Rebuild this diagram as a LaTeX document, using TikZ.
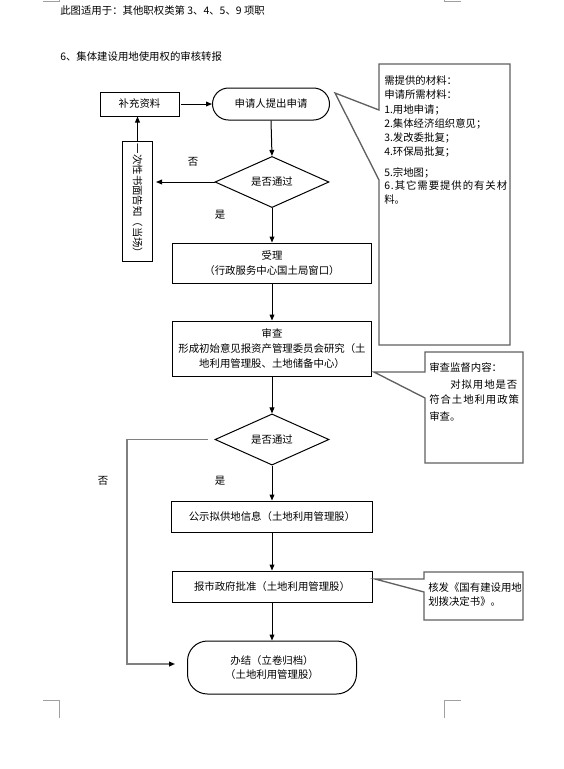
\documentclass[tikz,border=0pt]{standalone}
\usepackage{fontspec}
\setmainfont{Noto Sans CJK SC}
\usetikzlibrary{shapes.geometric,arrows.meta}
\definecolor{notegray}{RGB}{96,96,96}
\definecolor{loopgray}{RGB}{128,128,128}
\definecolor{cropgray}{RGB}{160,160,160}
\begin{document}
\begin{tikzpicture}[x=0.75pt,y=-0.75pt,
  font=\fontsize{7.8}{11}\selectfont,
  box/.style={draw, line width=0.75pt, inner sep=0pt, align=center},
  term/.style={box, rounded corners=12pt},
  dec/.style={draw, diamond, line width=0.75pt, inner sep=0pt, minimum width=85.5pt, minimum height=35.5pt},
  arr/.style={line width=0.75pt, -{Triangle[length=4.5pt,width=3.6pt]}},
  looparr/.style={draw=loopgray, line width=1pt, -{Triangle[length=4.5pt,width=3.6pt,color=black]}},
  note/.style={draw=notegray, line width=1pt, line join=miter},
  ntext/.style={anchor=west, inner sep=0pt},
  spaced/.style={font=\fontsize{7.8}{11}\selectfont\addfontfeature{LetterSpace=9}},
  crop/.style={draw=cropgray, line width=0.75pt}]
\useasboundingbox (0,0) rectangle (564,769);

% crop marks
\draw[crop] (43,1.5) -- (59,1.5) -- (59,0);
\draw[crop] (461,1.5) -- (444,1.5) -- (444,0);
\draw[crop] (43,700) -- (59,700) -- (59,718);
\draw[crop] (461,700) -- (444,700) -- (444,718);

% header texts
\node[ntext] (hdr) at (60,11) {此图适用于：其他职权类第 3、4、5、9 项职};
\node[ntext] (ttl) at (60,57) {6、集体建设用地使用权的审核转报};

% main flow
\node[box, minimum width=59.25pt, minimum height=18pt] (bc) at (139.5,104) {补充资料};
\node[term, minimum width=87.75pt, minimum height=24pt] (start) at (271,104) {申请人提出申请};
\node[dec] (d1) at (272,182) {是否通过};
\node[box, rotate=-90, minimum width=90pt, minimum height=22.5pt] (vb) at (137.5,201) {一次性书面告知（当场）};
\node[box, minimum width=149.25pt, minimum height=30pt] (a1) at (272,263) {受理\\（行政服务中心国土局窗口）};
\node[box, minimum width=149.25pt, minimum height=41.25pt] (sc) at (272,348.5) {审查\\形成初始意见报资产管理委员会研究（土\\地利用管理股、土地储备中心）};
\node[dec] (d2) at (272,439.5) {是否通过};
\node[box, minimum width=150.75pt, minimum height=23.25pt] (gs) at (272,516.5) {公示拟供地信息（土地利用管理股）};
\node[box, minimum width=150pt, minimum height=23.25pt] (bs) at (272,586.5) {报市政府批准（土地利用管理股）};
\node[box, rounded corners=15pt, minimum width=126.75pt, minimum height=39.75pt] (end) at (272,667.5) {办结（立卷归档）\\（土地利用管理股）};

% labels
\node (no1) at (193,162) {否};
\node (yes1) at (220,215) {是};
\node (no2) at (103,481) {否};
\node (yes2) at (220,481) {是};

% connectors
\coordinate (bcR) at (181,104);
\coordinate (e1) at (156,182);
\draw[arr] (bcR) -- (start.west);
\draw[arr] (start.south) -- (d1.north);
\draw[arr] (d1.west) -- (e1);
\draw[arr] (vb.west) -- (vb.west |- bc.south);
\draw[arr] (d1.south) -- (a1.north);
\draw[arr] (a1.south) -- (sc.north);
\draw[arr] (sc.south) -- (d2.north);
\draw[arr] (d2.south) -- (gs.north);
\draw[arr] (gs.south) -- (bs.north);
\draw[arr] (bs.south) -- (end.north);
\coordinate (l0) at (208,439.5);
\coordinate (lk) at (127,439.5);
\coordinate (l2) at (175,664);
\draw[looparr] (l0) -- (lk) |- (l2);

% callout 1
\draw[note] (379,110) -- (379,64) -- (510,64) -- (510,345) -- (379,345) -- (379,180) -- (335,93) -- cycle;
\foreach \yy/\tx [count=\i] in {81/需提供的材料：, 95/申请所需材料：, 110/1.用地申请；, 124/2.集体经济组织意见；, 138/3.发改委批复；, 152/4.环保局批复；, 173/5.宗地图；, 200/料。}
  \node[ntext] (m\i) at (384,\yy) {\tx};
\node[ntext, spaced] (m9) at (384,186) {6.其它需要提供的有关材};

% callout 2
\draw[note] (425,372) -- (425,352) -- (523,352) -- (523,463) -- (425,463) -- (425,398) -- (374,372) -- cycle;
\node[ntext] (s1) at (429,368) {审查监督内容：};
\node[ntext, spaced] (s2) at (450,385) {对拟用地是否};
\node[ntext, spaced] (s3) at (429,400) {符合土地利用政策};
\node[ntext] (s4) at (429,416) {审查。};

% callout 3
\draw[note] (424,579) -- (424,572) -- (523,572) -- (523,620) -- (424,620) -- (424,592) -- (375,579) -- cycle;
\node[ntext] (k1) at (428,588) {核发《国有建设用地};
\node[ntext] (k2) at (428,602) {划拨决定书》。};
\end{tikzpicture}
\end{document}
